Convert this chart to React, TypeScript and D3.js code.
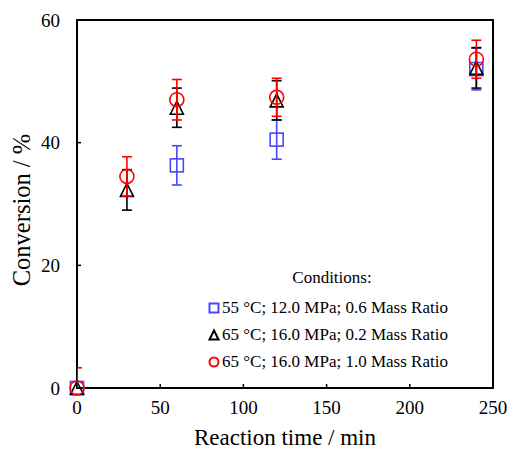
import React from 'react';
import * as d3 from 'd3';

// reaction times (min)
const blueTimes = [0, 60, 120, 240];
const otherTimes = [0, 30, 60, 120, 240];

// conversion (%) and error (+/-)
const blueValues = [0, 36.3, 40.5, 52.0];
const blueErr = [0, 3.2, 3.2, 3.4];
const blackValues = [0, 32.3, 45.7, 46.9, 52.2];
const blackErr = [0, 3.3, 3.2, 3.2, 3.3];
const redValues = [0, 34.5, 47.0, 47.4, 53.6];
const redErr = [3.3, 3.2, 3.3, 3.1, 3.1];

const xTicks = [0, 50, 100, 150, 200, 250];
const yTicks = [0, 20, 40, 60];

const legendTitle = 'Conditions:';
const legendLabels = [
  '55 °C; 12.0 MPa; 0.6 Mass Ratio',
  '65 °C; 16.0 MPa; 0.2 Mass Ratio',
  '65 °C; 16.0 MPa; 1.0 Mass Ratio',
];

const W = 508;
const H = 451;
const margin = { left: 77, right: 15, top: 20, bottom: 63 };
const FONT = '"Liberation Serif", "Times New Roman", serif';
const BLUE = '#4646ff';
const RED = '#ff0000';
const BLACK = '#000000';

const x = d3.scaleLinear().domain([0, 250]).range([margin.left, W - margin.right]);
const y = d3.scaleLinear().domain([0, 60]).range([H - margin.bottom, margin.top]);

// marker drawing, size = full width in px
function Marker({ kind, cx, cy, size, color, sw }) {
  const h = size / 2;
  if (kind === 'square') {
    return <rect x={cx - h} y={cy - h} width={size} height={size} fill="none" stroke={color} strokeWidth={sw} />;
  }
  if (kind === 'circle') {
    return <circle cx={cx} cy={cy} r={h} fill="none" stroke={color} strokeWidth={sw} />;
  }
  const p = `M${cx},${cy - h}L${cx + h},${cy + h}L${cx - h},${cy + h}Z`;
  return <path d={p} fill="none" stroke={color} strokeWidth={sw} strokeLinejoin="miter" />;
}

function Series({ times, values, errs, color, kind }) {
  return (
    <g>
      <g clipPath="url(#plotClip)">
        {times.map((t, i) => {
          if (!errs[i]) return null;
          const cx = x(t);
          const top = y(values[i] + errs[i]);
          const bot = y(values[i] - errs[i]);
          return (
            <g key={i} stroke={color} strokeWidth={1.6}>
              <line x1={cx} x2={cx} y1={top} y2={bot} />
              <line x1={cx - 5} x2={cx + 5} y1={top} y2={top} />
              <line x1={cx - 5} x2={cx + 5} y1={bot} y2={bot} />
            </g>
          );
        })}
      </g>
      {times.map((t, i) => (
        <Marker key={i} kind={kind} cx={x(t)} cy={y(values[i])} size={kind === 'circle' ? 14 : 13} color={color} sw={1.6} />
      ))}
    </g>
  );
}

export default function App() {
  const x0 = margin.left;
  const x1 = W - margin.right;
  const y0 = H - margin.bottom;
  const y1 = margin.top;
  const legendKinds = ['square', 'triangle', 'circle'];
  const legendColors = [BLUE, BLACK, RED];
  return (
    <svg width={W} height={H} style={{ position: 'absolute', left: 0, top: 0, background: '#fff' }} fontFamily={FONT}>
      <defs>
        <clipPath id="plotClip">
          <rect x={x0} y={y1} width={x1 - x0} height={y0 - y1} />
        </clipPath>
      </defs>

      {/* ticks */}
      {xTicks.map((t) => (
        <g key={'x' + t}>
          <line x1={x(t)} x2={x(t)} y1={y0} y2={y0 - 4} stroke="#000" strokeWidth={1.5} />
          <text x={x(t)} y={414} fontSize={19} textAnchor="middle">{t}</text>
        </g>
      ))}
      {yTicks.map((t) => (
        <g key={'y' + t}>
          <line x1={x0} x2={x0 + 4} y1={y(t)} y2={y(t)} stroke="#000" strokeWidth={1.5} />
          <text x={60} y={y(t)} dy="0.35em" fontSize={19} textAnchor="end">{t}</text>
        </g>
      ))}

      {/* frame */}
      <rect x={x0} y={y1} width={x1 - x0} height={y0 - y1} fill="none" stroke="#000" strokeWidth={2} />

      <text x={(x0 + x1) / 2} y={445} fontSize={23} textAnchor="middle">Reaction time / min</text>
      <text transform="translate(30,210) rotate(-90)" fontSize={24.5} textAnchor="middle">Conversion / %</text>

      <Series times={blueTimes} values={blueValues} errs={blueErr} color={BLUE} kind="square" />
      <Series times={otherTimes} values={blackValues} errs={blackErr} color={BLACK} kind="triangle" />
      <Series times={otherTimes} values={redValues} errs={redErr} color={RED} kind="circle" />

      {/* legend */}
      <text x={332} y={283} fontSize={17} textAnchor="middle">{legendTitle}</text>
      {legendLabels.map((lab, i) => (
        <g key={lab}>
          <Marker kind={legendKinds[i]} cx={214} cy={308 + i * 27} size={9} color={legendColors[i]} sw={2} />
          <text x={222} y={313 + i * 27} fontSize={17}>{lab}</text>
        </g>
      ))}
    </svg>
  );
}
